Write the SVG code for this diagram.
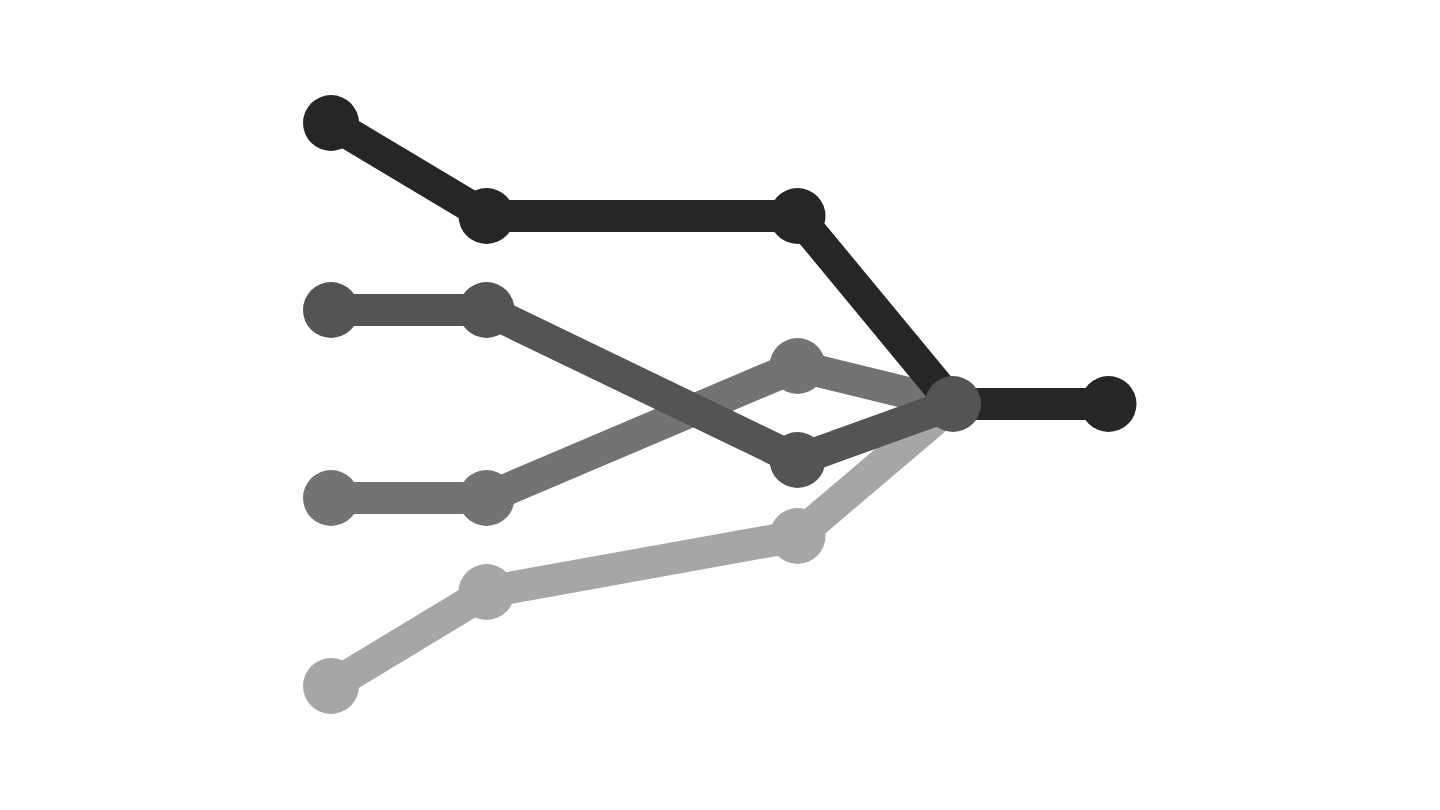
<svg xmlns="http://www.w3.org/2000/svg" width="1440" height="810" viewBox="0 0 1440 810">
<style>
.ln{fill:none;stroke-width:32;stroke-linejoin:round}
.l1{stroke:#262626}.l2{stroke:#545454}.l3{stroke:#737373}.l4{stroke:#a6a6a6}
.n1{fill:#262626}.n2{fill:#545454}.n3{fill:#737373}.n4{fill:#a6a6a6}
</style>
<rect width="1440" height="810" fill="#ffffff"/>
<g id="connectors">
<polyline class="ln l4" points="331,686 486.5,592 797.5,536 953,404"/>
<polyline class="ln l3" points="331,498 486.5,498 797.5,366 953,404"/>
<polyline class="ln l1" points="331,123 486.5,216 797.5,216 953,404 1108.5,404"/>
</g>
<g id="series4" class="n4">
<circle cx="331" cy="686" r="28"/><circle cx="486.5" cy="592" r="28"/><circle cx="797.5" cy="536" r="28"/>
</g>
<g id="series3" class="n3">
<circle cx="331" cy="498" r="28"/><circle cx="486.5" cy="498" r="28"/><circle cx="797.5" cy="366" r="28"/>
</g>
<g id="series1" class="n1">
<circle cx="331" cy="123" r="28"/><circle cx="486.5" cy="216" r="28"/><circle cx="797.5" cy="216" r="28"/><circle cx="1108.5" cy="404" r="28"/>
</g>
<g id="connectors-top">
<polyline class="ln l2" points="331,310 486.5,310 797.5,460 953,404"/>
</g>
<g id="series2" class="n2">
<circle cx="331" cy="310" r="28"/><circle cx="486.5" cy="310" r="28"/><circle cx="797.5" cy="460" r="28"/><circle cx="953" cy="404" r="28"/>
</g>
</svg>
